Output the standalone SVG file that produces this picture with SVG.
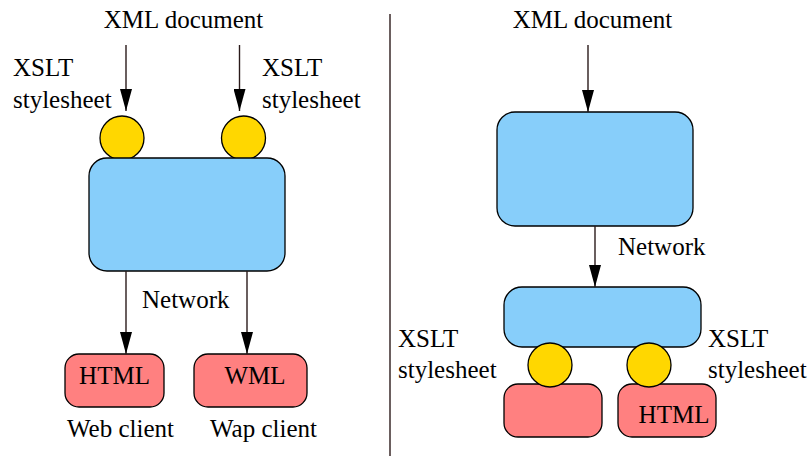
<svg xmlns="http://www.w3.org/2000/svg" width="811" height="456" viewBox="0 0 811 456">
<defs>
<marker id="ah" markerUnits="userSpaceOnUse" markerWidth="22" markerHeight="12" viewBox="0 0 22 12" refX="22" refY="6" orient="auto">
<path d="M0,0 L22,6 L0,12 Z" fill="#000"/>
</marker>
<style>
text{font-family:"Liberation Serif","Times New Roman",serif;font-size:25px;fill:#000}
.blue{fill:#87CEFA;stroke:#000;stroke-width:1.3}
.gold{fill:#FFD700;stroke:#000;stroke-width:1.3}
.red{fill:#FF8080;stroke:#000;stroke-width:1.3}
.conn line{stroke:#2a1a1a;stroke-width:1.4}
</style>
</defs>
<rect width="811" height="456" fill="#fff"/>
<line x1="390" y1="14" x2="390" y2="456" stroke="#3a2a2a" stroke-width="1.5"/>

<g id="left-labels">
<text x="183.5" y="28" text-anchor="middle">XML document</text>
<text x="13" y="76">XSLT</text>
<text x="13" y="108">stylesheet</text>
<text x="262" y="76">XSLT</text>
<text x="262" y="108">stylesheet</text>
<text x="142" y="308">Network</text>
<text x="67" y="437">Web client</text>
<text x="210" y="437">Wap client</text>
</g>
<g id="left-xslt1"><circle class="gold" cx="122" cy="138" r="22"/></g>
<g id="left-xslt2"><circle class="gold" cx="243.5" cy="138" r="22"/></g>
<g id="left-server"><rect class="blue" x="89" y="158" width="196" height="113" rx="18"/></g>
<g id="left-html"><rect class="red" x="65" y="354" width="99" height="53" rx="14"/><text x="114.5" y="384" text-anchor="middle">HTML</text></g>
<g id="left-wml"><rect class="red" x="194" y="354" width="113" height="53" rx="14"/><text x="255" y="384" text-anchor="middle">WML</text></g>

<g id="right-labels">
<text x="592.5" y="28" text-anchor="middle">XML document</text>
<text x="618" y="255">Network</text>
<text x="398" y="347">XSLT</text>
<text x="398" y="378">stylesheet</text>
<text x="708" y="347">XSLT</text>
<text x="708" y="378">stylesheet</text>
</g>
<g id="right-server"><rect class="blue" x="497" y="112" width="196" height="114" rx="18"/></g>
<g id="right-client"><rect class="blue" x="504" y="287" width="197" height="60" rx="18"/></g>
<g id="right-red1"><rect class="red" x="504" y="384" width="98" height="53" rx="14"/></g>
<g id="right-red2"><rect class="red" x="618" y="384" width="98" height="53" rx="14"/><text x="674" y="423" text-anchor="middle">HTML</text></g>
<g id="right-xslt1"><circle class="gold" cx="550" cy="365" r="22"/></g>
<g id="right-xslt2"><circle class="gold" cx="649" cy="365" r="22"/></g>

<g class="conn" id="connectors">
<line x1="126" y1="45" x2="126" y2="111" marker-end="url(#ah)"/>
<line x1="239.5" y1="45" x2="239.5" y2="111" marker-end="url(#ah)"/>
<line x1="126" y1="271" x2="126" y2="354" marker-end="url(#ah)"/>
<line x1="247" y1="271" x2="247" y2="354" marker-end="url(#ah)"/>
<line x1="588" y1="45" x2="588" y2="112" marker-end="url(#ah)"/>
<line x1="595" y1="226" x2="595" y2="287" marker-end="url(#ah)"/>
</g>
</svg>
